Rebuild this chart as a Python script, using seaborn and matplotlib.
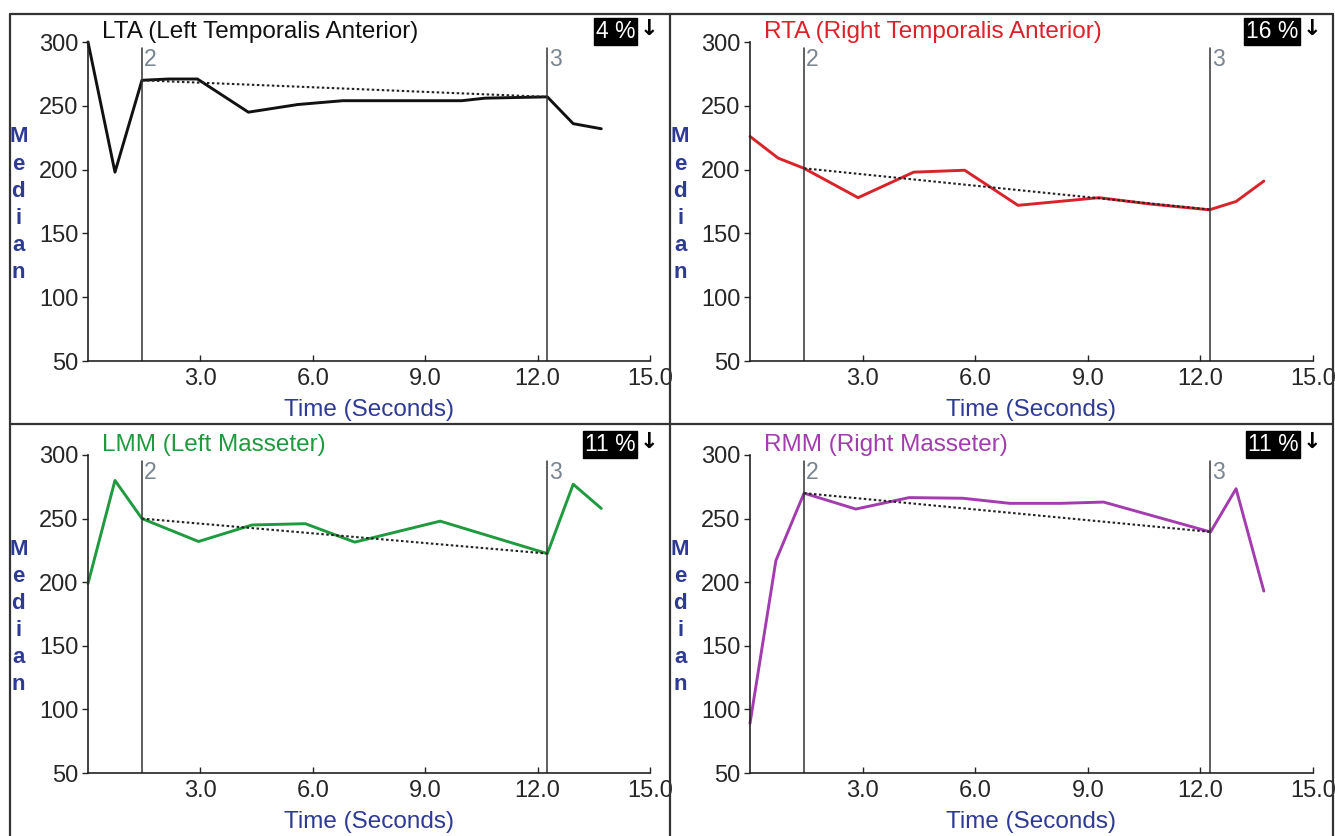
import numpy as np
import pandas as pd
import seaborn as sns
import matplotlib.pyplot as plt
from matplotlib.lines import Line2D

# Median EMG values
lta_time = [0, 0.72, 1.44, 2.15, 2.92, 4.28, 5.6, 6.8, 8.6, 9.98, 10.6, 12.26, 12.95, 13.7]
lta_median = [300, 198, 270, 271, 271, 245, 251, 254, 254, 254, 256, 257, 236, 232]

rta_time = [0, 0.75, 1.44, 2.88, 4.36, 5.72, 7.14, 8.4, 9.3, 10.67, 12.24, 12.95, 13.69]
rta_median = [226, 209, 201, 178, 198, 199.5, 172, 175.5, 178, 173, 168.5, 175, 191]

lmm_time = [0, 0.72, 1.44, 2.95, 4.38, 5.8, 7.12, 9.4, 12.26, 12.95, 13.7]
lmm_median = [199, 280, 250, 232, 245, 246, 231.5, 248, 222.5, 277, 258]

rmm_time = [0, 0.69, 1.44, 2.82, 4.24, 5.67, 6.92, 8.28, 9.42, 12.27, 12.95, 13.69]
rmm_median = [89, 217, 270, 257.5, 266.5, 266, 262, 262, 263, 239.5, 273.5, 193]

titles = ["LTA (Left Temporalis Anterior)", "RTA (Right Temporalis Anterior)",
          "LMM (Left Masseter)", "RMM (Right Masseter)"]
colors = ["#111111", "#d9232a", "#1f9a3e", "#a33cae"]
percents = ["4 %", "16 %", "11 %", "11 %"]
marker_times = [1.44, 12.26]
marker_labels = ["2", "3"]
x_ticks = [3.0, 6.0, 9.0, 12.0, 15.0]
y_ticks = [50, 100, 150, 200, 250, 300]

series = [(lta_time, lta_median), (rta_time, rta_median),
          (lmm_time, lmm_median), (rmm_time, rmm_median)]

sns.set_style("ticks")
plt.rcParams['font.family'] = ['Liberation Sans', 'DejaVu Sans']

fig = plt.figure(figsize=(13.35, 8.36), dpi=100)
W, H = 1335, 836

# axes boxes in pixels: left, top, right, bottom
boxes = [(88, 42, 650, 361), (750, 42, 1313, 361),
         (88, 455, 650, 773), (750, 455, 1313, 773)]

label_blue = "#2e3a94"

for i, (t, m) in enumerate(series):
    l, tp, r, b = boxes[i]
    ax = fig.add_axes([l / W, 1 - b / H, (r - l) / W, (b - tp) / H])
    df = pd.DataFrame({"time": t, "median": m})
    sns.lineplot(data=df, x="time", y="median", ax=ax, color=colors[i],
                 linewidth=2.1, clip_on=False, legend=False)

    # dotted trend between the two markers
    trend_y = np.interp(marker_times, t, m)
    ax.plot(marker_times, trend_y, linestyle=(0, (1.2, 1.2)), color="#222222", linewidth=1.5)

    for mt, ml in zip(marker_times, marker_labels):
        ax.axvline(mt, ymin=0, ymax=0.98, color="#333333", linewidth=1.1)
        ax.text(mt + 0.06, 286, ml, color="#7a8591", fontsize=16.5, va="center", ha="left")

    ax.set_xlim(0, 15)
    ax.set_ylim(50, 300)
    ax.set_xticks(x_ticks)
    ax.set_xticklabels([f"{v:.1f}" for v in x_ticks])
    ax.set_yticks(y_ticks)
    ax.tick_params(axis="y", direction="out", length=4, width=1, pad=3, labelsize=17)
    ax.tick_params(axis="x", direction="in", length=4, width=1, pad=5, labelsize=17)
    sns.despine(ax=ax)
    for s in ["left", "bottom"]:
        ax.spines[s].set_linewidth(1.2)
        ax.spines[s].set_color("#222222")

    ax.set_xlabel("Time (Seconds)", fontsize=17.5, color=label_blue)
    ax.xaxis.set_label_coords(0.5, -0.12)
    ax.set_ylabel("")
    ax.text(-0.124, 0.49, "M\ne\nd\ni\na\nn", transform=ax.transAxes, ha="center",
            va="center", fontsize=16, fontweight="bold", color=label_blue, linespacing=1.38)

    ax.text(0.025, 1.032, titles[i], transform=ax.transAxes, fontsize=17.5,
            color=colors[i], ha="left", va="center")
    ax.text(0.974, 1.032, percents[i], transform=ax.transAxes, fontsize=16.5,
            color="white", ha="right", va="center",
            bbox=dict(facecolor="black", edgecolor="black", pad=1.5))
    ax.text(0.999, 1.04, "↓", transform=ax.transAxes, fontsize=16, fontweight="bold",
            color="black", ha="center", va="center", family=["DejaVu Sans"])

# panel frame lines
frame = dict(color="#333333", linewidth=1.6, transform=fig.transFigure)
x_left, x_mid, x_right = 10 / W, 670 / W, 1333 / W
y_top, y_mid = 1 - 14 / H, 1 - 424 / H
fig.add_artist(Line2D([x_left, x_right], [y_top, y_top], **frame))
fig.add_artist(Line2D([x_left, x_right], [y_mid, y_mid], **frame))
fig.add_artist(Line2D([x_left, x_left], [0, y_top], **frame))
fig.add_artist(Line2D([x_mid, x_mid], [0, y_top], **frame))
fig.add_artist(Line2D([x_right, x_right], [0, y_top], **frame))

fig.savefig("out.png", dpi=100)
